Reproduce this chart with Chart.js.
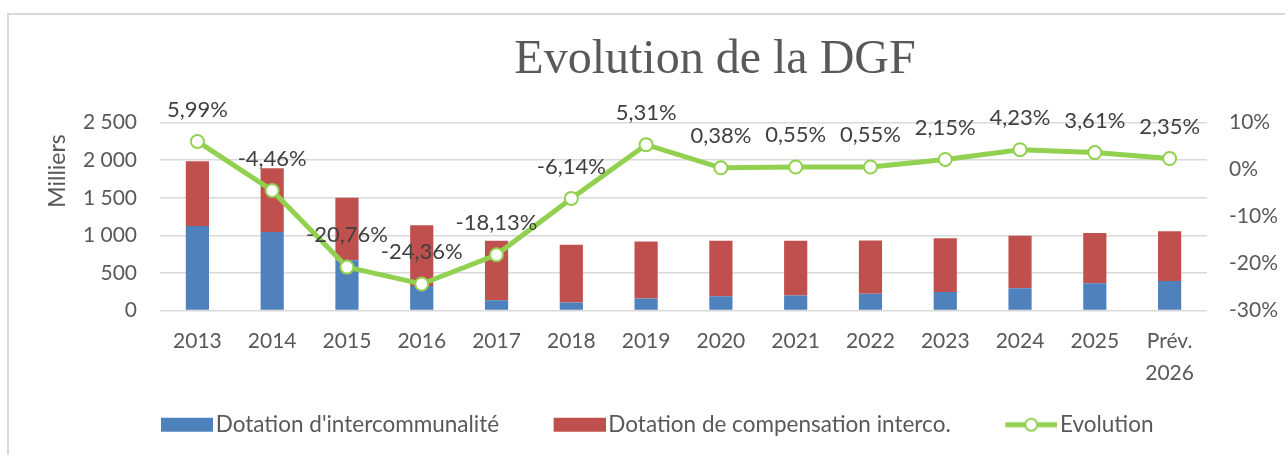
<!DOCTYPE html>
<html lang="fr">
<head>
  <meta charset="UTF-8">
  <title>Evolution de la DGF</title>
  <script src="https://cdn.jsdelivr.net/npm/chart.js"></script>
  <style>
    html, body { margin: 0; padding: 0; background: #fff; overflow: hidden; }
    #cadre { position: absolute; left: 7px; top: 13px; width: 1300px; height: 460px; border: 2px solid #D9D9D9; }
    #dgf { position: absolute; left: 0; top: 0; }
  </style>
</head>
<body>
  <div id="cadre"></div>
  <canvas id="dgf" width="1285" height="455"></canvas>
  <script>
    const annees = ['2013', '2014', '2015', '2016', '2017', '2018', '2019', '2020', '2021', '2022', '2023', '2024', '2025', ['Prév.', '2026']];
    const dotationInterco = [1125, 1045, 670, 326, 138, 107, 161, 188, 201, 223, 245, 295, 362, 393];
    const dotationCompensation = [862, 848, 830, 808, 790, 768, 758, 740, 727, 710, 715, 700, 669, 660];
    const evolution = [5.99, -4.46, -20.76, -24.36, -18.13, -6.14, 5.31, 0.38, 0.55, 0.55, 2.15, 4.23, 3.61, 2.35];

    const bleu = '#4F81BD';
    const rouge = '#C0504D';
    const vert = '#92D050';
    const gris = '#595959';

    function pourcent(v) {
      return v.toFixed(2).replace('.', ',') + '%';
    }
    function milliers(v) {
      if (v < 1000) return String(v);
      return Math.floor(v / 1000) + ' ' + String(v % 1000).padStart(3, '0');
    }

    // icones de la legende (zone vide a gauche pour espacer les items)
    function icone(type, couleur) {
      const c = document.createElement('canvas');
      c.width = 90; c.height = 16;
      const g = c.getContext('2d');
      if (type === 'rect') {
        g.fillStyle = couleur;
        g.fillRect(38, 1, 52, 14);
      } else {
        g.strokeStyle = couleur;
        g.lineWidth = 5;
        g.beginPath(); g.moveTo(38, 8); g.lineTo(90, 8); g.stroke();
        g.beginPath(); g.arc(64, 8, 6, 0, Math.PI * 2);
        g.fillStyle = '#fff'; g.fill();
        g.lineWidth = 2; g.stroke();
      }
      return c;
    }
    const icones = [icone('rect', bleu), icone('rect', rouge), icone('ligne', vert)];

    const etiquettes = {
      id: 'etiquettes',
      afterLayout(chart) {
        chart.titleBlock.left = 145;
      },
      afterDatasetsDraw(chart) {
        const ctx = chart.ctx;
        const meta = chart.getDatasetMeta(2);
        ctx.save();
        ctx.font = '22px Lato';
        ctx.fillStyle = '#404040';
        ctx.textAlign = 'center';
        ctx.textBaseline = 'middle';
        meta.data.forEach((pt, i) => {
          ctx.fillText(pourcent(evolution[i]), pt.x, pt.y - 32);
        });
        ctx.font = '23px Lato';
        ctx.fillStyle = gris;
        ctx.translate(58, 171);
        ctx.rotate(-Math.PI / 2);
        ctx.fillText('Milliers', 0, 0);
        ctx.restore();
      }
    };

    new Chart(document.getElementById('dgf'), {
      type: 'bar',
      data: {
        labels: annees,
        datasets: [{
          label: "Dotation d'intercommunalité",
          data: dotationInterco,
          backgroundColor: bleu,
          yAxisID: 'y',
          barPercentage: 0.31,
          categoryPercentage: 1
        }, {
          label: 'Dotation de compensation interco.',
          data: dotationCompensation,
          backgroundColor: rouge,
          yAxisID: 'y',
          barPercentage: 0.31,
          categoryPercentage: 1
        }, {
          type: 'line',
          label: 'Evolution',
          data: evolution,
          yAxisID: 'y1',
          order: -1,
          borderColor: vert,
          borderWidth: 5,
          pointRadius: 6.5,
          pointBorderWidth: 2,
          pointBackgroundColor: '#fff',
          pointBorderColor: vert,
          tension: 0
        }]
      },
      options: {
        responsive: false,
        animation: false,
        devicePixelRatio: 1,
        layout: { padding: { top: 0, left: 0, right: 0, bottom: 9 } },
        scales: {
          x: {
            stacked: true,
            grid: { display: false, drawTicks: false },
            border: { display: false },
            afterFit(s) { s.height = 78; },
            ticks: { color: gris, font: { family: 'Lato', size: 21, lineHeight: 1.55 }, padding: 14, maxRotation: 0 }
          },
          y: {
            stacked: true,
            min: 0,
            max: 2500,
            grid: { color: '#D9D9D9', lineWidth: 1.5, drawTicks: false },
            border: { display: false },
            afterFit(s) { s.width = 160; },
            ticks: { stepSize: 500, color: gris, font: { family: 'Lato', size: 21 }, padding: 23, callback: v => milliers(v) }
          },
          y1: {
            position: 'right',
            min: -30,
            max: 10,
            grid: { display: false, drawTicks: false },
            border: { display: false },
            afterFit(s) { s.width = 78; },
            ticks: { stepSize: 10, color: gris, font: { family: 'Lato', size: 21 }, padding: 22, callback: v => v + '%' }
          }
        },
        plugins: {
          title: {
            display: true,
            text: 'Evolution de la DGF',
            color: gris,
            font: { family: 'Liberation Serif', size: 48, weight: 'normal' },
            padding: { top: 32, bottom: 33 }
          },
          legend: {
            position: 'bottom',
            labels: {
              usePointStyle: true,
              pointStyleWidth: 73,
              padding: 25,
              color: gris,
              font: { family: 'Lato', size: 22.5 },
              sort: (a, b) => a.datasetIndex - b.datasetIndex,
              generateLabels(chart) {
                const items = Chart.defaults.plugins.legend.labels.generateLabels(chart);
                items.forEach(it => { it.pointStyle = icones[it.datasetIndex]; });
                return items;
              }
            }
          },
          tooltip: { enabled: false }
        }
      },
      plugins: [etiquettes]
    });
  </script>
</body>
</html>
